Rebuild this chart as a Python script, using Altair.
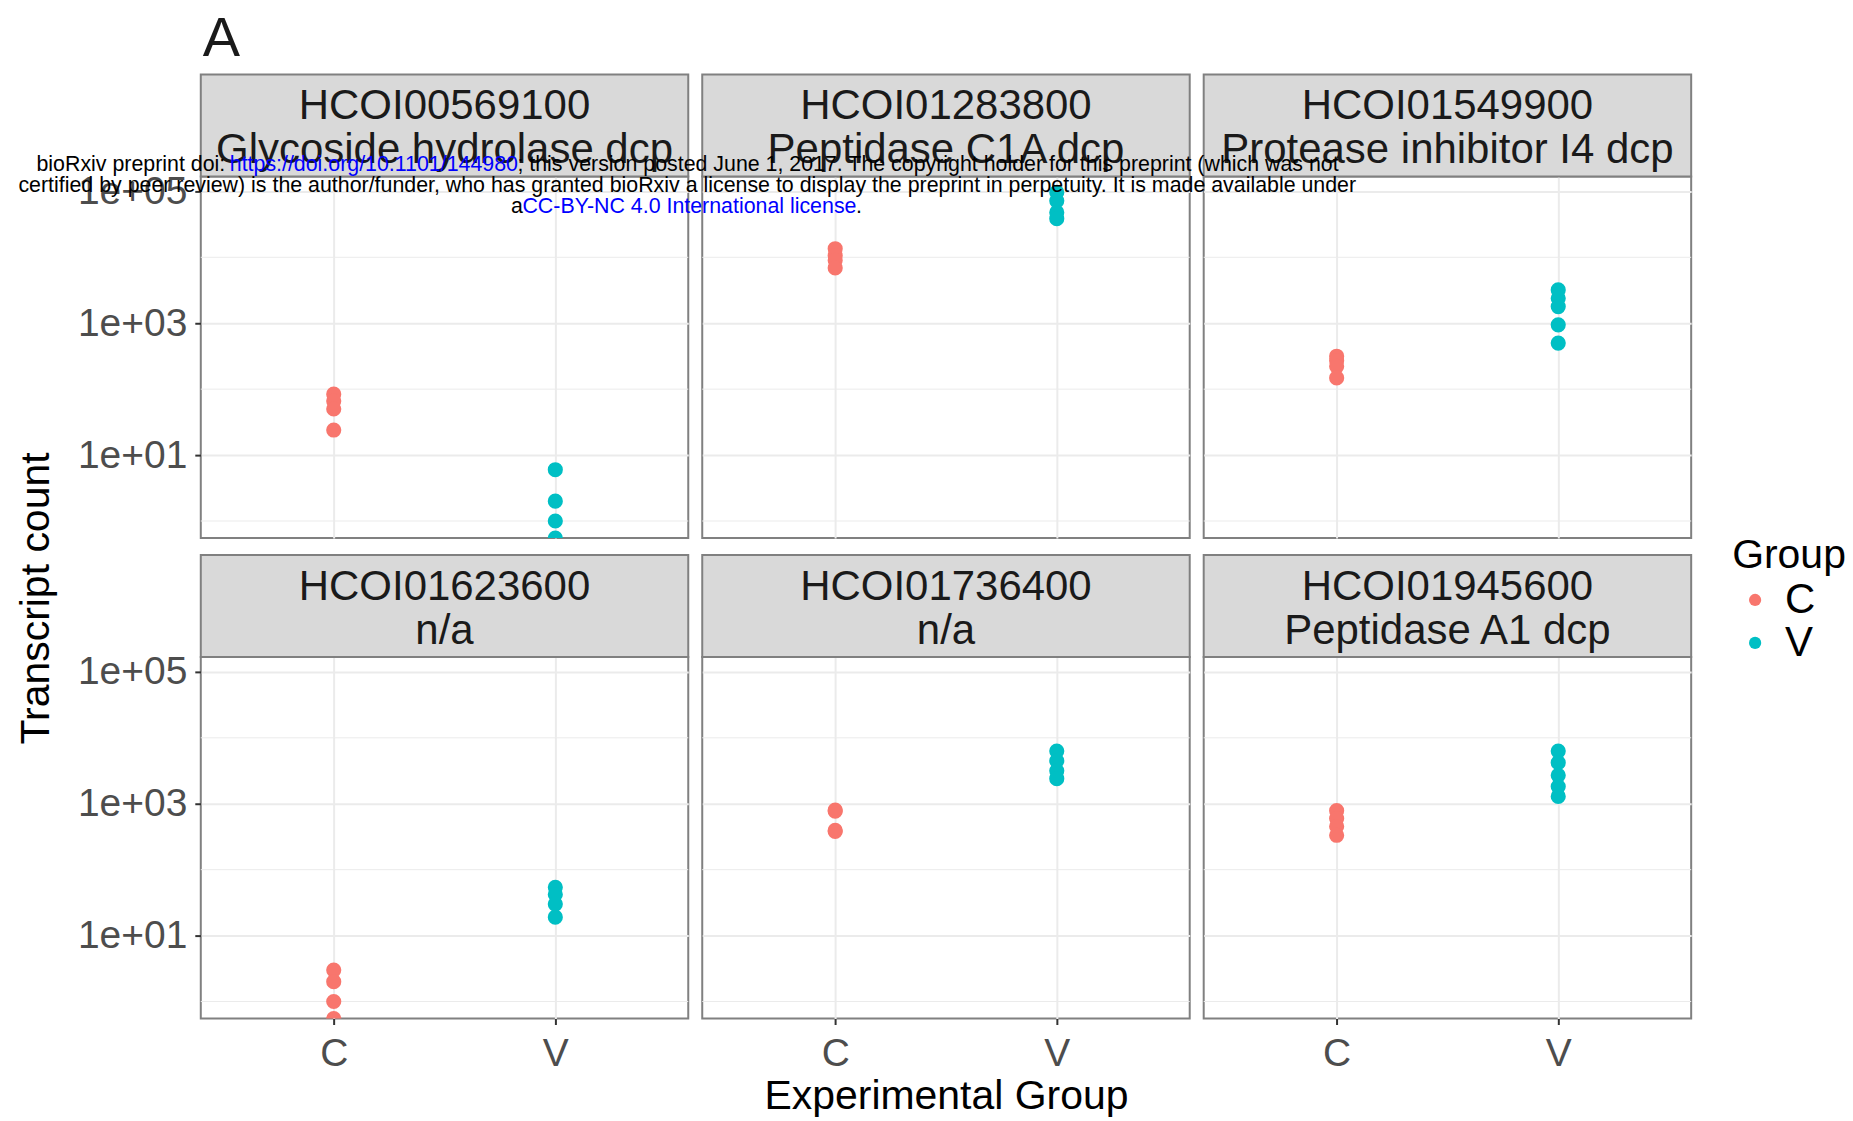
import altair as alt
import pandas as pd

# ---------------- data ----------------
gene_ids = ["HCOI00569100", "HCOI01283800", "HCOI01549900",
            "HCOI01623600", "HCOI01736400", "HCOI01945600"]
gene_desc = ["Glycoside hydrolase dcp", "Peptidase C1A dcp", "Protease inhibitor I4 dcp",
             "n/a", "n/a", "Peptidase A1 dcp"]
groups = ["C", "V"]
group_colors = ["#F8766D", "#00BFC4"]

counts_C = [
    [84, 66, 50, 24],
    [13500, 10600, 9000, 6900],
    [316, 270, 222, 148],
    [3, 2, 1, 0],
    [800, 770, 395, 380],
    [785, 595, 452, 332],
]
counts_V = [
    [6, 2, 1, 0],
    [96600, 72000, 48000, 38600],
    [3200, 2390, 1790, 946, 500],
    [54, 42, 30, 19],
    [6300, 4480, 3160, 2400],
    [6300, 4200, 2700, 1820, 1290],
]

y_major = [10, 1000, 100000]
y_major_labels = ["1e+01", "1e+03", "1e+05"]
y_minor = [1, 100, 10000]
y_domain = [0.552, 168700]

x_title = "Experimental Group"
y_title = "Transcript count"
legend_title = "Group"
panel_tag = "A"

wm_line1 = ["bioRxiv preprint doi: ", "https://doi.org/10.1101/144980",
            "; this version posted June 1, 2017. The copyright holder for this preprint (which was not"]
wm_line2 = ("certified by peer review) is the author/funder, who has granted bioRxiv "
            "a license to display the preprint in perpetuity. It is made available under")
wm_line3 = ["a", "CC-BY-NC 4.0 International license", "."]

# ---------------- tables ----------------
rows = []
for gi, gid in enumerate(gene_ids):
    for g, vals in (("C", counts_C[gi]), ("V", counts_V[gi])):
        for v in vals:
            rows.append({"gene": gid, "group": g, "count": v})
points_df = pd.DataFrame(rows)
strips_df = pd.DataFrame({"gene": gene_ids, "desc": gene_desc})
minor_df = pd.DataFrame({"v": y_minor})
one_df = pd.DataFrame({"k": [0]})

# ---------------- geometry ----------------
W, H = 488, 362
STRIP_H = 102
COL_GAP, ROW_GAP = 14, 119
ORIGINS = [(200 + c * (W + COL_GAP), 175 + r * (H + ROW_GAP)) for r in range(2) for c in range(3)]
FONT = "Liberation Sans"
BORDER = "#808080"
GRID = "#EBEBEB"
WM_SIZE = 21.4

label_expr = " : ".join(
    f"abs(datum.value - {v}) < {v * 1e-6} ? '{lab}'" for v, lab in zip(y_major, y_major_labels)
) + " : ''"

y_scale = alt.Scale(type="log", domain=y_domain, nice=False, zero=False)
x_scale = alt.Scale(type="point", domain=groups, padding=0.6)
color_scale = alt.Scale(domain=groups, range=group_colors)

legend = alt.Legend(
    title=legend_title, orient="none", legendX=1533, legendY=360,
    titleFontSize=41, titleFontWeight="normal", titleColor="black", titleFont=FONT,
    labelFontSize=42, labelColor="black", labelFont=FONT,
    symbolType="circle", symbolSize=150, symbolStrokeWidth=0,
    padding=0, titlePadding=2, rowPadding=1, symbolOffset=2, labelOffset=9,
)


def y_axis(i):
    show = (i % 3 == 0)
    kw = dict(values=y_major, grid=True, gridColor=GRID, gridWidth=2, domain=False,
              labels=show, ticks=show, title=None)
    if show:
        kw.update(labelExpr=label_expr, labelFontSize=39, labelColor="#4D4D4D", labelFont=FONT,
                  tickColor="#333333", tickSize=6, tickWidth=2, labelPadding=8)
    if i == 3:
        ox, oy = ORIGINS[3]
        kw.update(title=y_title, titleFontSize=41, titleFontWeight="normal", titleColor="black",
                  titleFont=FONT, titleX=36 - ox, titleY=597 - oy, titleAngle=270,
                  titleAlign="center", titleBaseline="middle")
    return alt.Axis(**kw)


def x_axis(i):
    show = (i >= 3)
    kw = dict(grid=True, gridColor=GRID, gridWidth=2, domain=False,
              labels=show, ticks=show, title=None, labelAngle=0)
    if show:
        kw.update(labelFontSize=39, labelColor="#4D4D4D", labelFont=FONT,
                  tickColor="#333333", tickSize=6, tickWidth=2, labelPadding=10)
    if i == 4:
        kw.update(title=x_title, titleFontSize=41, titleFontWeight="normal", titleColor="black",
                  titleFont=FONT, titleX=W / 2, titleY=78, titleAlign="center",
                  titleBaseline="middle")
    return alt.Axis(**kw)


def panel(i):
    gid = gene_ids[i]
    ya = y_axis(i)
    layers = []

    if i == 0:
        ox, oy = ORIGINS[0]
        layers.append(
            alt.Chart(one_df).mark_rect(opacity=0).encode(
                x=alt.value(-ox), x2=alt.value(1853 - ox),
                y=alt.value(-oy), y2=alt.value(1121 - oy))
        )

    layers.append(
        alt.Chart(minor_df).mark_rule(color=GRID, strokeWidth=1).encode(
            y=alt.Y("v:Q", scale=y_scale, axis=ya))
    )
    layers.append(
        alt.Chart(strips_df.iloc[[i]]).mark_rect(
            fill="#D9D9D9", stroke=BORDER, strokeWidth=2).encode(
            x=alt.value(0), x2=alt.value(W), y=alt.value(-STRIP_H), y2=alt.value(0))
    )
    layers.append(
        alt.Chart(strips_df.iloc[[i]]).mark_text(
            font=FONT, fontSize=42, color="#1A1A1A", align="center", baseline="middle").encode(
            x=alt.value(W / 2), y=alt.value(-70), text="gene:N")
    )
    layers.append(
        alt.Chart(strips_df.iloc[[i]]).mark_text(
            font=FONT, fontSize=42, color="#1A1A1A", align="center", baseline="middle").encode(
            x=alt.value(W / 2), y=alt.value(-26), text="desc:N")
    )
    layers.append(
        alt.Chart(points_df[points_df["gene"] == gid]).transform_calculate(
            y_plot=f"datum.count > 0 ? datum.count : {y_domain[0]}"
        ).mark_circle(size=230, opacity=1, clip=True).encode(
            x=alt.X("group:N", scale=x_scale, axis=x_axis(i), sort=groups),
            y=alt.Y("y_plot:Q", scale=y_scale, axis=ya),
            color=alt.Color("group:N", scale=color_scale, legend=legend),
        )
    )

    if i == 0:
        layers.append(
            alt.Chart(one_df).mark_text(
                text=panel_tag, font=FONT, fontSize=56, color="#1A1A1A",
                align="left", baseline="middle").encode(
                x=alt.value(2), y=alt.value(-138))
        )

    if i == 5:
        ox, oy = ORIGINS[5]

        def wm(text, x_abs, y_abs, color, align="left"):
            return alt.Chart(one_df).mark_text(
                text=text, font=FONT, fontSize=WM_SIZE, color=color, align=align,
                baseline="middle").encode(x=alt.value(x_abs - ox), y=alt.value(y_abs - oy))

        layers += [
            wm(wm_line1[0], 35.5, 164, "black"),
            wm(wm_line1[1], 229, 164, "#0000FF"),
            wm(wm_line1[2], 517, 164, "black"),
            wm(wm_line2, 687, 185, "black", align="center"),
            wm(wm_line3[0], 510.5, 206, "black"),
            wm(wm_line3[1], 522, 206, "#0000FF"),
            wm(wm_line3[2], 856, 206, "black"),
        ]

    return alt.layer(*layers).properties(width=W, height=H)


chart = alt.concat(
    *[panel(i) for i in range(6)],
    columns=3,
    spacing={"row": ROW_GAP, "column": COL_GAP},
    bounds="flush",
).resolve_scale(color="shared").properties(
    padding=0, background="white"
).configure(font=FONT).configure_view(
    stroke=BORDER, strokeWidth=2
)

chart.save("out.html", embed_options={"renderer": "svg", "actions": False})
